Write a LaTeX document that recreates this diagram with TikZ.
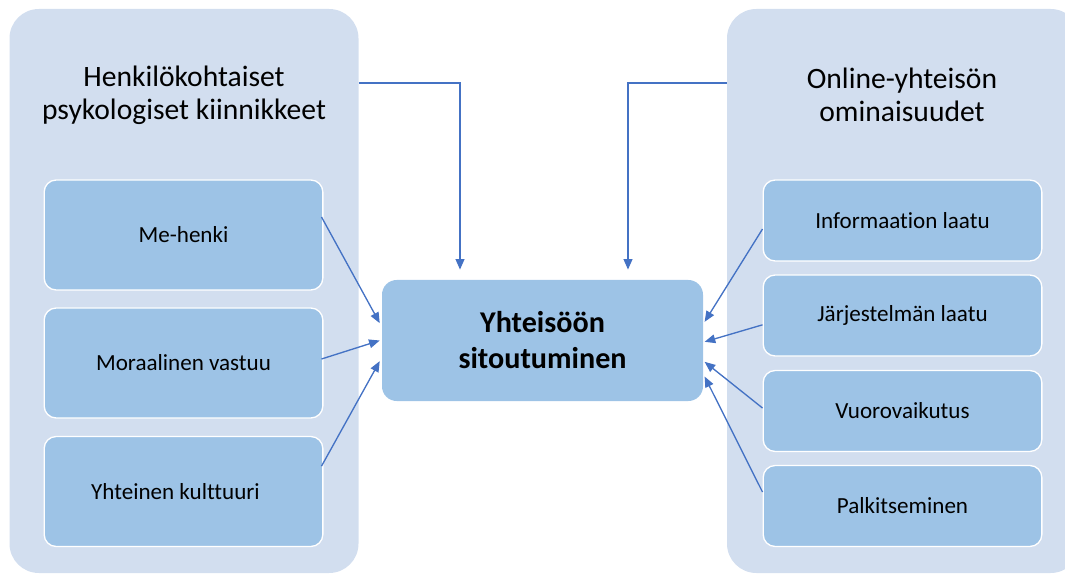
\documentclass[tikz,border=0pt]{standalone}
\usepackage{fontspec}
\setmainfont{Carlito}[Ligatures=NoCommon]
\usetikzlibrary{calc,arrows.meta}
\definecolor{outerbg}{HTML}{D2DEEF}
\definecolor{innerbg}{HTML}{9DC3E6}
\definecolor{arrowblue}{HTML}{4472C4}
\begin{document}
\begin{tikzpicture}[x=0.75pt,y=-0.75pt,
  container/.style={fill=outerbg,draw=none,rounded corners=22pt,minimum width=#1,minimum height=423pt,inner sep=0pt},
  leftitem/.style={fill=innerbg,draw=white,line width=1pt,rounded corners=9pt,minimum width=209pt,minimum height=82.5pt,font=\fontsize{17.3}{20}\selectfont,inner sep=0pt},
  rightitem/.style={fill=innerbg,draw=white,line width=1pt,rounded corners=9pt,minimum width=209pt,minimum height=60.75pt,font=\fontsize{17.3}{20}\selectfont,inner sep=0pt},
  titletext/.style={align=center,font=\fontsize{22.2}{24.5}\selectfont},
  centerbox/.style={fill=innerbg,draw=none,rounded corners=11pt,minimum width=240.75pt,minimum height=90.75pt,align=center,font=\fontsize{22.6}{27}\selectfont\bfseries},
  link/.style={draw=arrowblue,line width=1pt,-{Triangle[length=8pt,width=6.5pt]}},
  elbow/.style={draw=arrowblue,line width=1.5pt,-{Triangle[length=8pt,width=6.5pt]}}]
\useasboundingbox (0,0) rectangle (1065,574);
% containers
\begin{scope}
\clip (0,0) rectangle (1065,574);
\node[container=261.75pt] (leftc) at (184,291) {};
\node[container=264.75pt] (rightc) at (903.5,291) {};
\end{scope}
% titles
\node[titletext] (lt) at (184,95) {Henkilökohtaiset\\psykologiset kiinnikkeet};
\node[titletext] (rt) at (902,95) {Online-yhteisön\\ominaisuudet};
% left items
\node[leftitem] (me) at (183.5,235) {Me-henki};
\node[leftitem] (mv) at (183.5,363) {Moraalinen vastuu};
\node[leftitem] (yk) at (183.5,491.5) {\hspace*{-12pt}Yhteinen kulttuuri};
% right items
\node[rightitem] (il) at (902.5,220.5) {Informaation laatu};
\node[rightitem] (jl) at (902.5,315.5) {Järjestelmän laatu};
\node[rightitem] (vv) at (902.5,411) {Vuorovaikutus};
\node[rightitem] (pk) at (902.5,506) {Palkitseminen};
% center
\node[centerbox] (cb) at (542.5,340.5) {Yhteisöön\\sitoutuminen};
% top elbow arrows
\draw[elbow] ($(leftc.north east)+(0,74)$) -| ($(cb.north)+(-82.5,-10)$);
\draw[elbow] ($(rightc.north west)+(0,74)$) -| ($(cb.north)+(85.5,-10)$);
% left arrows
\draw[link] ([xshift=-1.5pt,yshift=13.5pt]me.east) -- ([xshift=-1.5pt,yshift=13pt]cb.west);
\draw[link] ([xshift=-1.5pt,yshift=3pt]mv.east) -- ([xshift=-1.5pt,yshift=0pt]cb.west);
\draw[link] ([xshift=-1.5pt,yshift=19pt]yk.east) -- ([xshift=-1.5pt,yshift=-15.5pt]cb.west);
% right arrows
\draw[link] ([yshift=-6.4pt]il.west) -- ([xshift=1pt,yshift=14pt]cb.east);
\draw[link] ([yshift=-7pt]jl.west) -- ([xshift=1pt,yshift=-1pt]cb.east);
\draw[link] ([yshift=2.25pt]vv.west) -- ([xshift=1pt,yshift=-16pt]cb.east);
\draw[link] ([yshift=10.5pt]pk.west) -- ([xshift=1pt,yshift=-27pt]cb.east);
\end{tikzpicture}
\end{document}
